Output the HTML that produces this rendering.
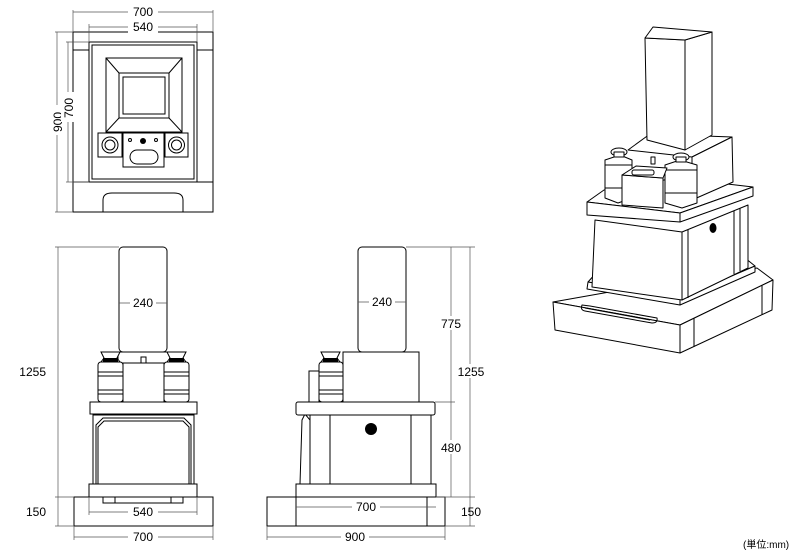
<!DOCTYPE html>
<html><head><meta charset="utf-8"><style>
html,body{margin:0;padding:0;background:#fff;}
svg{display:block;}
text{font-family:"Liberation Sans","Noto Sans CJK JP",sans-serif;font-size:12px;fill:#000;}
.d{stroke:#555;stroke-width:0.7;fill:none;}
.s{stroke:#000;stroke-width:1;fill:#fff;}
.n{stroke:#000;stroke-width:1;fill:none;}
</style></head><body>
<svg width="800" height="551" viewBox="0 0 800 551" xmlns="http://www.w3.org/2000/svg">
<!-- TOP VIEW -->
<g>
<rect class="s" x="73" y="32" width="140" height="180"/>
<line class="n" x1="73" y1="50" x2="213" y2="50"/>
<line class="n" x1="73" y1="182" x2="213" y2="182"/>
<rect class="s" x="89" y="42" width="108" height="140"/>
<rect class="n" x="92" y="45" width="102" height="134"/>
<path class="n" d="M103 212 V200 Q103 193 112 193 H174 Q183 193 183 200 V212"/>
<rect class="s" x="106" y="58" width="76" height="74"/>
<rect class="n" x="119" y="73" width="50" height="45"/>
<rect class="n" x="123" y="77" width="42" height="37"/>
<line class="n" x1="106" y1="58" x2="119" y2="73"/><line class="n" x1="182" y1="58" x2="169" y2="73"/>
<line class="n" x1="106" y1="132" x2="119" y2="118"/><line class="n" x1="182" y1="132" x2="169" y2="118"/>
<rect class="s" x="98" y="133" width="24" height="24" stroke-width="1.5"/>
<circle class="n" cx="110" cy="145" r="8" stroke-width="1.3"/><circle class="n" cx="110" cy="145" r="5"/>
<rect class="s" x="165" y="133" width="23" height="24" stroke-width="1.5"/>
<circle class="n" cx="176.5" cy="145" r="8" stroke-width="1.3"/><circle class="n" cx="176.5" cy="145" r="5"/>
<rect class="s" x="123" y="133" width="41" height="34"/>
<circle cx="143" cy="141" r="3" fill="#000"/>
<circle class="n" cx="130" cy="140" r="1.5"/><circle class="n" cx="156" cy="140" r="1.5"/>
<rect class="n" x="130" y="150" width="28" height="14" rx="7"/>
<line class="d" x1="73" y1="10" x2="73" y2="32"/><line class="d" x1="213" y1="10" x2="213" y2="32"/>
<line class="d" x1="73" y1="12" x2="213" y2="12"/>
<line class="d" x1="89" y1="24" x2="89" y2="42"/><line class="d" x1="197" y1="24" x2="197" y2="42"/>
<line class="d" x1="89" y1="27" x2="197" y2="27"/>
<rect x="128" y="5" width="30" height="13" fill="#fff"/><text x="143" y="16" text-anchor="middle">700</text>
<rect x="128" y="20" width="30" height="13" fill="#fff"/><text x="143" y="31" text-anchor="middle">540</text>
<line class="d" x1="55" y1="32" x2="73" y2="32"/><line class="d" x1="55" y1="212" x2="73" y2="212"/>
<line class="d" x1="57" y1="32" x2="57" y2="212"/>
<line class="d" x1="66" y1="42" x2="89" y2="42"/><line class="d" x1="66" y1="182" x2="89" y2="182"/>
<line class="d" x1="68" y1="42" x2="68" y2="182"/>
<rect x="50" y="105" width="12" height="30" fill="#fff"/>
<text transform="translate(62,122) rotate(-90)" text-anchor="middle">900</text>
<rect x="61" y="92" width="13" height="30" fill="#fff"/>
<text transform="translate(73,108) rotate(-90)" text-anchor="middle">700</text>
</g>

<!-- FRONT VIEW -->
<g>
<rect class="s" x="74" y="497" width="139" height="29"/>
<rect class="s" x="89" y="484" width="108" height="13"/>
<rect class="s" x="103" y="497" width="80" height="6"/>
<line class="n" x1="115" y1="497" x2="115" y2="503"/><line class="n" x1="171" y1="497" x2="171" y2="503"/>
<rect class="s" x="93" y="415" width="101" height="69"/>
<path class="n" d="M96 484 V425 L103 418 H184 L191 425 V484"/>
<path class="n" d="M98 484 V427 L104 421 H183 L189 427 V484"/>
<rect class="s" x="90" y="402" width="107" height="12"/>
<rect class="s" x="123" y="363" width="41" height="39"/>
<rect class="s" x="118" y="352" width="52" height="11"/>
<rect class="n" x="141" y="357" width="5" height="6"/>
<g id="vaseF">
<rect class="s" x="98" y="362" width="25" height="40" rx="3"/>
<line class="n" x1="98" y1="372" x2="123" y2="372"/><line class="n" x1="98" y1="376" x2="123" y2="376"/>
<line class="n" x1="98" y1="390" x2="123" y2="390"/><line class="n" x1="98" y1="394" x2="123" y2="394"/>
<path class="s" d="M101 352 H120 L117 358 L120 362 H101 L104 358 Z"/>
<rect x="103" y="358" width="15" height="4" fill="#000"/>
</g>
<use href="#vaseF" transform="translate(66,0)"/>
<rect class="s" x="119" y="247" width="48" height="105" rx="4"/>
<line class="d" x1="119" y1="303" x2="167" y2="303"/>
<rect x="130" y="296" width="26" height="13" fill="#fff"/><text x="143" y="307" text-anchor="middle">240</text>
<line class="d" x1="55" y1="247" x2="119" y2="247"/>
<line class="d" x1="58" y1="247" x2="58" y2="526"/>
<line class="d" x1="55" y1="497" x2="74" y2="497"/><line class="d" x1="55" y1="526" x2="74" y2="526"/>
<text x="46" y="376" text-anchor="end">1255</text>
<text x="46" y="516" text-anchor="end">150</text>
<line class="d" x1="89" y1="497" x2="89" y2="515"/><line class="d" x1="197" y1="497" x2="197" y2="515"/>
<line class="d" x1="89" y1="512" x2="197" y2="512"/>
<rect x="128" y="505" width="30" height="13" fill="#fff"/><text x="143" y="516" text-anchor="middle">540</text>
<line class="d" x1="74" y1="526" x2="74" y2="540"/><line class="d" x1="213" y1="526" x2="213" y2="540"/>
<line class="d" x1="74" y1="537" x2="213" y2="537"/>
<rect x="128" y="530" width="30" height="13" fill="#fff"/><text x="143" y="541" text-anchor="middle">700</text>
</g>

<!-- SIDE VIEW -->
<g>
<rect class="s" x="267" y="497" width="178" height="29"/>
<line class="n" x1="296" y1="497" x2="296" y2="526"/><line class="n" x1="427" y1="497" x2="427" y2="526"/>
<rect class="s" x="296" y="484" width="140" height="13"/>
<path class="s" d="M300 484 L302 420 L305 414 L310 420 V484 Z"/>
<rect class="s" x="310" y="415" width="121" height="69"/>
<line class="n" x1="330" y1="415" x2="330" y2="484"/><line class="n" x1="411" y1="415" x2="411" y2="484"/>
<circle cx="371" cy="429" r="6" fill="#000"/>
<rect class="s" x="296" y="402" width="139" height="13" rx="2"/>
<rect class="s" x="309" y="371" width="10" height="31"/>
<rect class="s" x="343" y="352" width="76" height="50"/>
<rect class="s" x="319" y="362" width="24" height="40" rx="3"/>
<line class="n" x1="319" y1="372" x2="343" y2="372"/><line class="n" x1="319" y1="376" x2="343" y2="376"/>
<line class="n" x1="319" y1="390" x2="343" y2="390"/><line class="n" x1="319" y1="394" x2="343" y2="394"/>
<path class="s" d="M321 352 H340 L337 358 L340 362 H321 L324 358 Z"/>
<rect x="323" y="358" width="15" height="4" fill="#000"/>
<rect class="s" x="358" y="247" width="48" height="105" rx="4"/>
<line class="d" x1="358" y1="302" x2="406" y2="302"/>
<rect x="369" y="295" width="26" height="13" fill="#fff"/><text x="382" y="306" text-anchor="middle">240</text>
<line class="d" x1="406" y1="247" x2="475" y2="247"/>
<line class="d" x1="435" y1="402" x2="455" y2="402"/>
<line class="d" x1="436" y1="497" x2="475" y2="497"/><line class="d" x1="445" y1="526" x2="475" y2="526"/>
<line class="d" x1="451" y1="247" x2="451" y2="497"/>
<line class="d" x1="470" y1="247" x2="470" y2="526"/>
<rect x="438" y="316" width="26" height="14" fill="#fff"/><text x="451" y="328" text-anchor="middle">775</text>
<rect x="456" y="364" width="30" height="14" fill="#fff"/><text x="471" y="376" text-anchor="middle">1255</text>
<rect x="438" y="440" width="26" height="14" fill="#fff"/><text x="451" y="452" text-anchor="middle">480</text>
<text x="471" y="516" text-anchor="middle">150</text>
<line class="d" x1="296" y1="507" x2="436" y2="507"/>
<rect x="352" y="500" width="28" height="13" fill="#fff"/><text x="366" y="511" text-anchor="middle">700</text>
<line class="d" x1="267" y1="526" x2="267" y2="540"/><line class="d" x1="445" y1="526" x2="445" y2="540"/>
<line class="d" x1="267" y1="537" x2="445" y2="537"/>
<rect x="341" y="530" width="28" height="13" fill="#fff"/><text x="355" y="541" text-anchor="middle">900</text>
</g>

<!-- ISOMETRIC -->
<g stroke-linejoin="round">
<!-- base -->
<path class="s" d="M553 302 L680 325 L773 280 L757 268 L632 288 Z"/>
<path class="s" d="M553 302 L680 325 L680 353 L555 330 Z"/>
<path class="s" d="M680 325 L773 280 L772 310 L680 353 Z"/>
<line class="n" x1="694" y1="318" x2="694" y2="347"/><line class="n" x1="762" y1="285" x2="762" y2="315"/>
<path class="n" d="M582 305 Q580 310 585 311 L652 323 Q658 323 657 318 L590 306 Z"/>
<path class="n" d="M585 308 L650 320"/>
<!-- plinth -->
<path class="s" d="M588 282 L680 298 L755 266 L745 258 L597 272 Z"/>
<path class="s" d="M588 282 L680 298 L680 305 L587 289 Z"/>
<path class="s" d="M680 298 L755 266 L755 272 L680 305 Z"/>
<!-- body -->
<path class="s" d="M595 220 L682 232 L682 300 L592 287 Z"/>
<path class="s" d="M682 232 L748 205 L748 268 L682 300 Z"/>
<line class="n" x1="688" y1="230" x2="688" y2="298"/>
<line class="n" x1="734" y1="211" x2="734" y2="274"/><line class="n" x1="740" y1="208" x2="740" y2="271"/>
<ellipse cx="713" cy="228" rx="3.5" ry="5" fill="#000"/>
<!-- shelf -->
<path class="s" d="M587 202 L680 213 L753 187 L676 178 L604 190 Z"/>
<path class="s" d="M587 202 L680 213 L680 222 L587 215 Z"/>
<path class="s" d="M680 213 L753 187 L753 196 L680 222 Z"/>
<!-- upper block -->
<path class="s" d="M628 150 L650 134 L732 137 L692 157 Z"/>
<path class="s" d="M692 157 L732 137 L733 182 L692 200 Z"/>
<!-- pillar -->
<path class="s" d="M685 40 L712 32 L712 135 L685 150 Z"/>
<path class="s" d="M645 38 L685 40 L685 150 L647 140 Z"/>
<path class="s" d="M645 38 L653 27 L712 32 L685 40 Z"/>
<!-- vases -->
<path class="s" d="M605 160 L620 155 L632 160 L632 198 L618 203 L605 198 Z"/>
<line class="n" x1="605" y1="165" x2="632" y2="165"/><line class="n" x1="605" y1="188" x2="632" y2="188"/>
<ellipse class="s" cx="619" cy="152" rx="8" ry="4"/>
<rect class="s" x="614" y="152" width="10" height="5"/>
<path class="s" d="M665 165 L680 160 L697 165 L697 203 L682 208 L665 203 Z"/>
<line class="n" x1="665" y1="170" x2="697" y2="170"/><line class="n" x1="665" y1="193" x2="697" y2="193"/>
<ellipse class="s" cx="681" cy="157" rx="8" ry="4"/>
<rect class="s" x="676" y="157" width="10" height="5"/>
<!-- middle box -->
<path class="s" d="M622 175 L663 178 L663 208 L622 205 Z"/>
<path class="s" d="M622 175 L636 166 L667 168 L663 178 Z"/>
<rect class="n" x="632" y="170" width="22" height="5" rx="2"/>
<rect class="s" x="651" y="157" width="4" height="7"/>
</g>

<text x="743" y="548" style="font-size:10px">(単位:mm)</text>
</svg>
</body></html>
